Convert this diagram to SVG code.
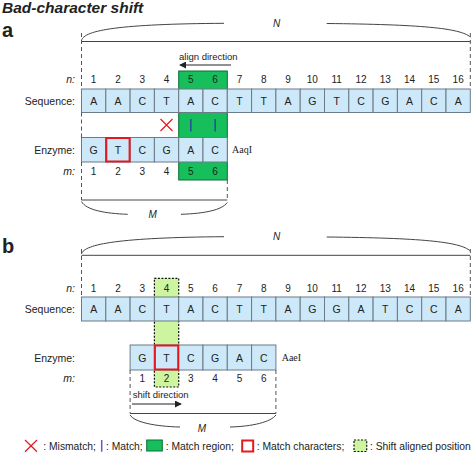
<svg xmlns="http://www.w3.org/2000/svg" width="472" height="454" viewBox="0 0 472 454">
<defs>
<style>
text{font-family:"Liberation Sans",Arial,sans-serif;fill:#222;}
.t{font-size:15.5px;font-weight:bold;font-style:italic;}
.lab{font-size:20px;font-weight:bold;}
.rl{font-size:10.5px;text-anchor:end;}
.it{font-style:italic;}
.num{font-size:10px;text-anchor:middle;}
.ch{font-size:10.5px;text-anchor:middle;}
.sm{font-size:9.5px;}
.ser{font-family:"Liberation Serif","Times New Roman",serif;font-size:10px;}
.lg{font-size:10.3px;}
.cell{fill:#cde8f8;stroke:#6b7b87;stroke-width:1;}
.grn{fill:#16bf5c;stroke:#0b6e35;stroke-width:1;}
.lgrn{fill:#cdf5a0;stroke:#111;stroke-width:1.2;stroke-dasharray:2 1.5;}
.red{fill:none;stroke:#e3191f;stroke-width:2;}
.dash{fill:none;stroke:#555;stroke-width:1;stroke-dasharray:4 3;}
.br{fill:none;stroke:#444;stroke-width:1;}
.x{stroke:#e3191f;stroke-width:1.2;fill:none;}
.mb{stroke:#2b4a9a;stroke-width:1.5;}
.arr{stroke:#222;stroke-width:1;fill:none;}
</style>
<marker id="ah" viewBox="0 0 8 8" refX="7" refY="4" markerWidth="7" markerHeight="7" orient="auto" markerUnits="userSpaceOnUse">
<path d="M0,0 L8,4 L0,8 Z" fill="#222"/>
</marker>
</defs>

<text class="t" x="2" y="13">Bad-character shift</text>

<!-- ===== Panel a ===== -->
<g id="panel-a">
<text class="lab" x="2" y="36.5">a</text>

<g id="a-brace-N">
<path class="br" d="M81.5,41.5 H470.3"/>
<path class="br" d="M81.5,40.5 C84,30 120,24 224,23.3"/>
<path class="br" d="M326.7,23.5 C420,24.5 460,28 470.3,37"/>
<text class="it" x="276.7" y="26.7" style="font-size:10px;text-anchor:middle">N</text>
</g>

<g id="a-align">
<text class="sm" x="179" y="59.5">align direction</text>
<line class="arr" x1="231" y1="65" x2="180" y2="65" marker-end="url(#ah)"/>
</g>

<g id="a-green"><rect class="grn" x="178.7" y="71" width="48.6" height="109"/></g>

<g id="a-labels">
<text class="rl it" x="75" y="83">n:</text>
<text class="rl" x="75" y="104.5">Sequence:</text>
<text class="rl" x="75" y="153.5">Enzyme:</text>
<text class="rl it" x="75" y="174.5">m:</text>
</g>

<g id="a-n">
<text class="num" x="93.65" y="83">1</text><text class="num" x="117.95" y="83">2</text><text class="num" x="142.25" y="83">3</text><text class="num" x="166.55" y="83">4</text><text class="num" x="190.85" y="83">5</text><text class="num" x="215.15" y="83">6</text><text class="num" x="239.45" y="83">7</text><text class="num" x="263.75" y="83">8</text><text class="num" x="288.05" y="83">9</text><text class="num" x="312.35" y="83">10</text><text class="num" x="336.65" y="83">11</text><text class="num" x="360.95" y="83">12</text><text class="num" x="385.25" y="83">13</text><text class="num" x="409.55" y="83">14</text><text class="num" x="433.85" y="83">15</text><text class="num" x="458.15" y="83">16</text>
</g>

<g id="a-sequence">
<rect class="cell" x="81.5" y="89" width="24.3" height="23.5"/><rect class="cell" x="105.8" y="89" width="24.3" height="23.5"/><rect class="cell" x="130.1" y="89" width="24.3" height="23.5"/><rect class="cell" x="154.4" y="89" width="24.3" height="23.5"/><rect class="cell" x="178.7" y="89" width="24.3" height="23.5"/><rect class="cell" x="203" y="89" width="24.3" height="23.5"/><rect class="cell" x="227.3" y="89" width="24.3" height="23.5"/><rect class="cell" x="251.6" y="89" width="24.3" height="23.5"/><rect class="cell" x="275.9" y="89" width="24.3" height="23.5"/><rect class="cell" x="300.2" y="89" width="24.3" height="23.5"/><rect class="cell" x="324.5" y="89" width="24.3" height="23.5"/><rect class="cell" x="348.8" y="89" width="24.3" height="23.5"/><rect class="cell" x="373.1" y="89" width="24.3" height="23.5"/><rect class="cell" x="397.4" y="89" width="24.3" height="23.5"/><rect class="cell" x="421.7" y="89" width="24.3" height="23.5"/><rect class="cell" x="446" y="89" width="24.3" height="23.5"/>
<text class="ch" x="93.65" y="104.5">A</text><text class="ch" x="117.95" y="104.5">A</text><text class="ch" x="142.25" y="104.5">C</text><text class="ch" x="166.55" y="104.5">T</text><text class="ch" x="190.85" y="104.5">A</text><text class="ch" x="215.15" y="104.5">C</text><text class="ch" x="239.45" y="104.5">T</text><text class="ch" x="263.75" y="104.5">T</text><text class="ch" x="288.05" y="104.5">A</text><text class="ch" x="312.35" y="104.5">G</text><text class="ch" x="336.65" y="104.5">T</text><text class="ch" x="360.95" y="104.5">C</text><text class="ch" x="385.25" y="104.5">G</text><text class="ch" x="409.55" y="104.5">A</text><text class="ch" x="433.85" y="104.5">C</text><text class="ch" x="458.15" y="104.5">A</text>
</g>

<g id="a-compare">
<path class="x" d="M160.5,119 L172.5,131 M172.5,119 L160.5,131"/>
<line class="mb" x1="190.85" y1="119" x2="190.85" y2="131.5"/>
<line class="mb" x1="215.15" y1="119" x2="215.15" y2="131.5"/>
</g>

<g id="a-enzyme">
<rect class="cell" x="81.5" y="137.5" width="24.3" height="24.5"/><rect class="cell" x="105.8" y="137.5" width="24.3" height="24.5"/><rect class="cell" x="130.1" y="137.5" width="24.3" height="24.5"/><rect class="cell" x="154.4" y="137.5" width="24.3" height="24.5"/><rect class="cell" x="178.7" y="137.5" width="24.3" height="24.5"/><rect class="cell" x="203" y="137.5" width="24.3" height="24.5"/>
<text class="ch" x="93.65" y="153.5">G</text><text class="ch" x="117.95" y="153.5">T</text><text class="ch" x="142.25" y="153.5">C</text><text class="ch" x="166.55" y="153.5">G</text><text class="ch" x="190.85" y="153.5">A</text><text class="ch" x="215.15" y="153.5">C</text>
<rect class="red" x="106.3" y="138" width="23.3" height="23.5"/>
<text class="ser" x="232" y="153">AaqI</text>
</g>

<g id="a-m">
<text class="num" x="93.65" y="174.5">1</text><text class="num" x="117.95" y="174.5">2</text><text class="num" x="142.25" y="174.5">3</text><text class="num" x="166.55" y="174.5">4</text><text class="num" x="190.85" y="174.5">5</text><text class="num" x="215.15" y="174.5">6</text>
</g>

<g id="a-brace-M">
<path class="br" d="M81.5,200 H227.3"/>
<path class="br" d="M81.5,201.5 C86,210 105,213.5 127.7,214.3"/>
<path class="br" d="M181,214.3 C205,213.5 222,210 227.3,202.5"/>
<text class="it" x="152.7" y="217.5" style="font-size:10px;text-anchor:middle">M</text>
</g>
</g>

<!-- ===== Panel b ===== -->
<g id="panel-b">
<text class="lab" x="2" y="253">b</text>

<g id="b-brace-N">
<path class="br" d="M81.5,255.3 H470.3"/>
<path class="br" d="M81.5,254 C84,244 120,237.5 224,236.7"/>
<path class="br" d="M326.7,237 C420,238 460,241.5 470.3,251"/>
<text class="it" x="276.7" y="240" style="font-size:10px;text-anchor:middle">N</text>
</g>

<g id="b-shiftcol"><rect class="lgrn" x="154.4" y="278.3" width="24.3" height="108.7"/></g>

<g id="b-labels">
<text class="rl it" x="75" y="291.5">n:</text>
<text class="rl" x="75" y="313">Sequence:</text>
<text class="rl" x="75" y="361.5">Enzyme:</text>
<text class="rl it" x="75" y="382">m:</text>
</g>

<g id="b-n">
<text class="num" x="93.65" y="291.5">1</text><text class="num" x="117.95" y="291.5">2</text><text class="num" x="142.25" y="291.5">3</text><text class="num" x="166.55" y="291.5">4</text><text class="num" x="190.85" y="291.5">5</text><text class="num" x="215.15" y="291.5">6</text><text class="num" x="239.45" y="291.5">7</text><text class="num" x="263.75" y="291.5">8</text><text class="num" x="288.05" y="291.5">9</text><text class="num" x="312.35" y="291.5">10</text><text class="num" x="336.65" y="291.5">11</text><text class="num" x="360.95" y="291.5">12</text><text class="num" x="385.25" y="291.5">13</text><text class="num" x="409.55" y="291.5">14</text><text class="num" x="433.85" y="291.5">15</text><text class="num" x="458.15" y="291.5">16</text>
</g>

<g id="b-sequence">
<rect class="cell" x="81.5" y="297" width="24.3" height="24"/><rect class="cell" x="105.8" y="297" width="24.3" height="24"/><rect class="cell" x="130.1" y="297" width="24.3" height="24"/><rect class="cell" x="154.4" y="297" width="24.3" height="24"/><rect class="cell" x="178.7" y="297" width="24.3" height="24"/><rect class="cell" x="203" y="297" width="24.3" height="24"/><rect class="cell" x="227.3" y="297" width="24.3" height="24"/><rect class="cell" x="251.6" y="297" width="24.3" height="24"/><rect class="cell" x="275.9" y="297" width="24.3" height="24"/><rect class="cell" x="300.2" y="297" width="24.3" height="24"/><rect class="cell" x="324.5" y="297" width="24.3" height="24"/><rect class="cell" x="348.8" y="297" width="24.3" height="24"/><rect class="cell" x="373.1" y="297" width="24.3" height="24"/><rect class="cell" x="397.4" y="297" width="24.3" height="24"/><rect class="cell" x="421.7" y="297" width="24.3" height="24"/><rect class="cell" x="446" y="297" width="24.3" height="24"/>
<text class="ch" x="93.65" y="313">A</text><text class="ch" x="117.95" y="313">A</text><text class="ch" x="142.25" y="313">C</text><text class="ch" x="166.55" y="313">T</text><text class="ch" x="190.85" y="313">A</text><text class="ch" x="215.15" y="313">C</text><text class="ch" x="239.45" y="313">T</text><text class="ch" x="263.75" y="313">T</text><text class="ch" x="288.05" y="313">A</text><text class="ch" x="312.35" y="313">G</text><text class="ch" x="336.65" y="313">G</text><text class="ch" x="360.95" y="313">A</text><text class="ch" x="385.25" y="313">T</text><text class="ch" x="409.55" y="313">C</text><text class="ch" x="433.85" y="313">C</text><text class="ch" x="458.15" y="313">A</text>
</g>

<g id="b-enzyme">
<rect class="cell" x="130.1" y="345" width="24.3" height="25"/><rect class="cell" x="154.4" y="345" width="24.3" height="25"/><rect class="cell" x="178.7" y="345" width="24.3" height="25"/><rect class="cell" x="203" y="345" width="24.3" height="25"/><rect class="cell" x="227.3" y="345" width="24.3" height="25"/><rect class="cell" x="251.6" y="345" width="24.3" height="25"/>
<text class="ch" x="142.25" y="361.5">G</text><text class="ch" x="166.55" y="361.5">T</text><text class="ch" x="190.85" y="361.5">C</text><text class="ch" x="215.15" y="361.5">G</text><text class="ch" x="239.45" y="361.5">A</text><text class="ch" x="263.75" y="361.5">C</text>
<rect class="red" x="154.9" y="345.5" width="23.3" height="24"/>
<text class="ser" x="281.7" y="361">AaeI</text>
</g>

<g id="b-m">
<text class="num" x="142.25" y="382">1</text><text class="num" x="166.55" y="382">2</text><text class="num" x="190.85" y="382">3</text><text class="num" x="215.15" y="382">4</text><text class="num" x="239.45" y="382">5</text><text class="num" x="263.75" y="382">6</text>
</g>

<g id="b-shift">
<text class="sm" x="132.7" y="398">shift direction</text>
<line class="arr" x1="132" y1="404" x2="181" y2="404" marker-end="url(#ah)"/>
</g>

<g id="b-brace-M">
<path class="br" d="M130.1,413.5 H275.9"/>
<path class="br" d="M130.1,415 C134,422 155,426.5 180,427"/>
<path class="br" d="M230,427 C252,426.5 271,422 275.9,415"/>
<text class="it" x="202" y="431.5" style="font-size:10px;text-anchor:middle">M</text>
</g>
</g>

<g id="connectors">
<line class="dash" x1="81.5" y1="33" x2="81.5" y2="89"/>
<line class="dash" x1="81.5" y1="112.5" x2="81.5" y2="137.5"/>
<line class="dash" x1="81.5" y1="162" x2="81.5" y2="200"/>
<line class="dash" x1="470.3" y1="33" x2="470.3" y2="89"/>
<line class="dash" x1="227.3" y1="180" x2="227.3" y2="200"/>
<line class="dash" x1="81.5" y1="249" x2="81.5" y2="297"/>
<line class="dash" x1="470.3" y1="249" x2="470.3" y2="297"/>
<line class="dash" x1="130.1" y1="370" x2="130.1" y2="413.5"/>
<line class="dash" x1="275.9" y1="370" x2="275.9" y2="413.5"/>
</g>

<g id="legend">
<path class="x" d="M25,440 L37,451.7 M37,440 L25,451.7"/>
<text class="lg" x="43.3" y="450">: Mismatch;</text>
<line x1="101.7" y1="440" x2="101.7" y2="451.7" stroke="#5a5ad0" stroke-width="1.5"/>
<text class="lg" x="106" y="450">: Match;</text>
<rect class="grn" x="146.7" y="440" width="15.6" height="11"/>
<text class="lg" x="165.7" y="450">: Match region;</text>
<rect class="red" x="242.2" y="440.5" width="11" height="11"/>
<text class="lg" x="256.7" y="450">: Match characters;</text>
<rect class="lgrn" x="354" y="440" width="12.7" height="11.5"/>
<text class="lg" x="370" y="450">: Shift aligned position</text>
</g>
</svg>
